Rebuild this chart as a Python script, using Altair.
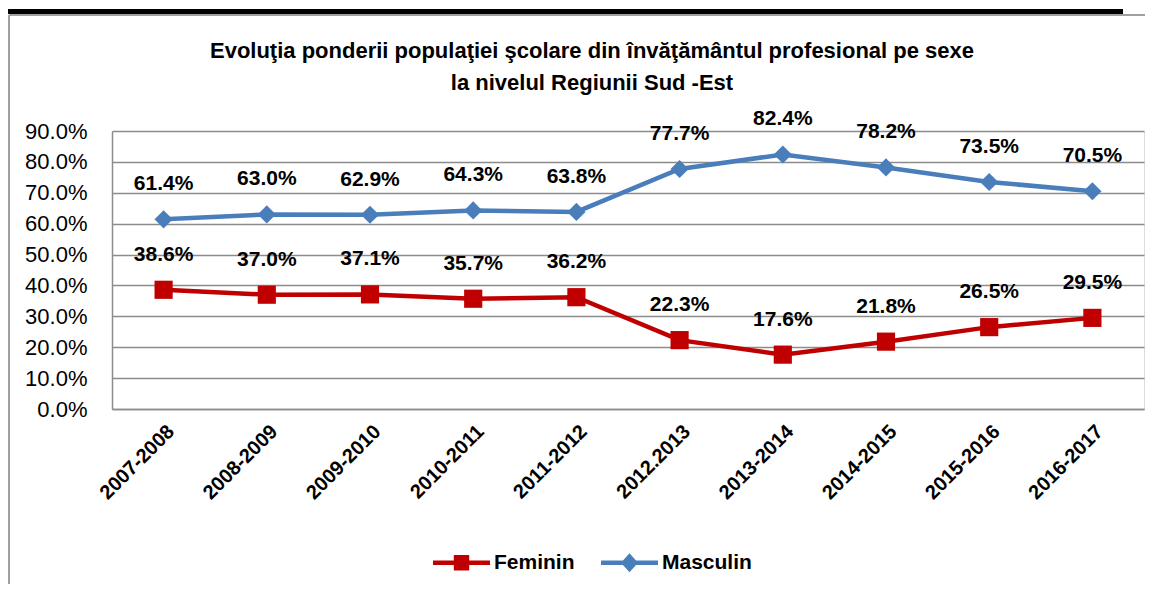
import altair as alt
import pandas as pd

FONT = "Liberation Sans"

years = ["2007-2008", "2008-2009", "2009-2010", "2010-2011", "2011-2012",
         "2012.2013", "2013-2014", "2014-2015", "2015-2016", "2016-2017"]
feminin = [38.6, 37.0, 37.1, 35.7, 36.2, 22.3, 17.6, 21.8, 26.5, 29.5]
masculin = [61.4, 63.0, 62.9, 64.3, 63.8, 77.7, 82.4, 78.2, 73.5, 70.5]
series = ["Feminin", "Masculin"]
colors = ["#C00000", "#4A7EBB"]
y_ticks = [0.0, 0.1, 0.2, 0.3, 0.4, 0.5, 0.6, 0.7, 0.8, 0.9]
title_lines = ["Evoluţia ponderii populaţiei şcolare din învăţământul profesional pe sexe",
               "la nivelul Regiunii Sud -Est"]

rows = []
for i, yr in enumerate(years):
    rows.append({"an": yr, "serie": "Feminin", "val": feminin[i] / 100})
    rows.append({"an": yr, "serie": "Masculin", "val": masculin[i] / 100})
df = pd.DataFrame(rows)

GRID = "#8c8c8c"

x = alt.X("an:N", sort=years, title=None,
          axis=alt.Axis(labelAngle=-45, labelFont=FONT, labelFontSize=20,
                        labelFontWeight="bold", labelColor="#000000",
                        ticks=False, labelPadding=12, domainColor=GRID,
                        domainWidth=1.5, grid=False))
y = alt.Y("val:Q", title=None,
          scale=alt.Scale(domain=[0, 0.9], nice=False, zero=True),
          axis=alt.Axis(values=y_ticks, format=".1%", labelFont=FONT,
                        labelFontSize=22, labelColor="#000000", ticks=False,
                        labelPadding=25, domainColor=GRID, domainWidth=1.5,
                        grid=True, gridColor=GRID, gridWidth=1.5))

base = alt.Chart(df)
fem = base.transform_filter(alt.datum.serie == "Feminin")
mas = base.transform_filter(alt.datum.serie == "Masculin")

line_f = fem.mark_line(strokeWidth=4.5, color=colors[0]).encode(x=x, y=y)
line_m = mas.mark_line(strokeWidth=4.5, color=colors[1]).encode(x=x, y=y)
pts_f = fem.mark_point(filled=True, shape="square", size=330, opacity=1,
                       color=colors[0]).encode(x=x, y=y)
pts_m = mas.mark_point(filled=True, shape="diamond", size=330, opacity=1,
                       color=colors[1]).encode(x=x, y=y)

labels = base.mark_text(font=FONT, fontSize=21, fontWeight="bold", dy=-35,
                        color="#000000").encode(
    x=x, y=y, text=alt.Text("val:Q", format=".1%"))

path_f = "M-1,-0.075H1V0.075H-1Z M-0.27,-0.27H0.27V0.27H-0.27Z"
path_m = "M-1,-0.075H1V0.075H-1Z M0,-0.33L0.3,0L0,0.33L-0.3,0Z"

leg = dict(title=None, orient="none", direction="horizontal",
           legendX=321, legendY=403,
           labelFont=FONT, labelFontSize=21,
           labelFontWeight="bold", labelColor="#000000",
           symbolSize=3249, symbolStrokeWidth=0,
           symbolOpacity=1, labelOffset=4, columnPadding=26)

legend_layer = base.transform_filter("false").mark_point(filled=True).encode(
    x=x, y=y,
    color=alt.Color("serie:N", scale=alt.Scale(domain=series, range=colors),
                    legend=alt.Legend(**leg)),
    shape=alt.Shape("serie:N", scale=alt.Scale(domain=series, range=[path_f, path_m]),
                    legend=alt.Legend(**leg)),
)

one = alt.Data(values=[{"k": 1}])
frame_top = alt.Chart(one).mark_rule(color="#a0a0a0", strokeWidth=2).encode(
    x=alt.value(-103), x2=alt.value(1040), y=alt.value(-116))
frame_left = alt.Chart(one).mark_rule(color="#a0a0a0", strokeWidth=2).encode(
    x=alt.value(-103), y=alt.value(-116), y2=alt.value(460))
black_bar = alt.Chart(one).mark_rule(color="#000000", strokeWidth=5).encode(
    x=alt.value(-110), x2=alt.value(1011), y=alt.value(-119.5))

chart = alt.layer(frame_top, frame_left, black_bar, line_f, line_m, pts_f, pts_m,
                  labels, legend_layer).properties(
    width=1032, height=278,
    autosize=alt.AutoSizeParams(type="none"),
    padding={"left": 104, "top": 123, "right": 1, "bottom": 175},
    title=alt.TitleParams(text=title_lines, font=FONT, fontSize=22,
                          fontWeight="bold", color="#000000", lineHeight=32,
                          anchor="middle", frame="group", dx=-36, offset=-86),
).configure_view(stroke=None).configure(background="white")

chart.save("out.html", embed_options={"renderer": "svg", "actions": False})
